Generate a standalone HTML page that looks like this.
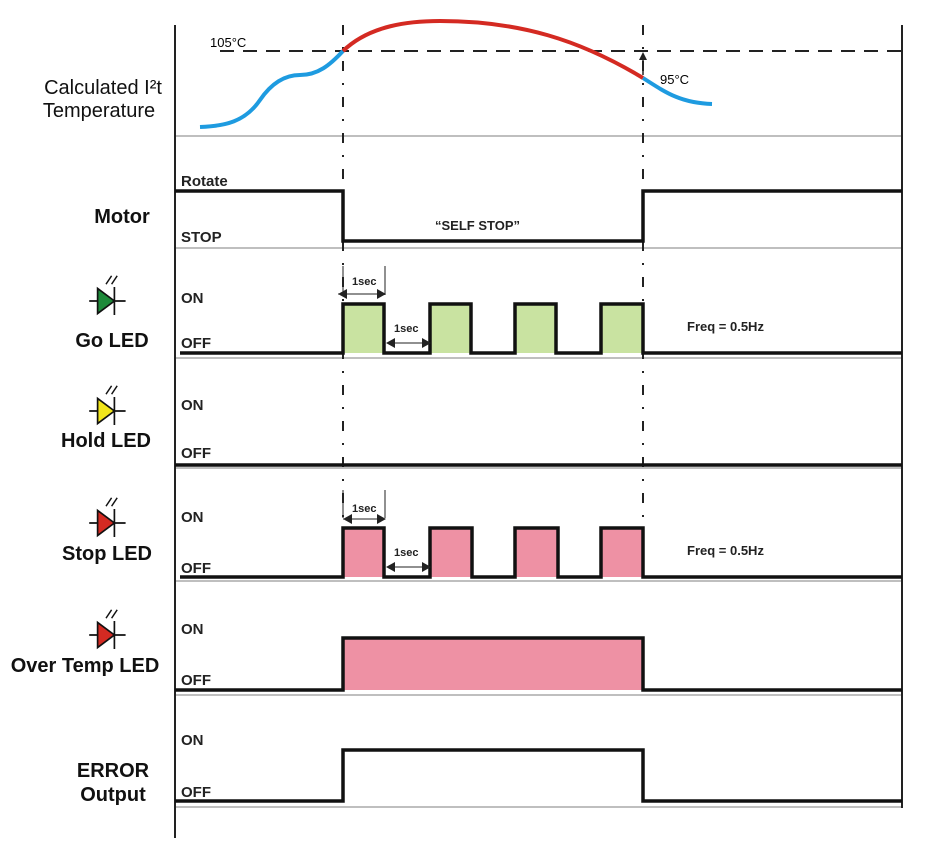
<!DOCTYPE html>
<html><head><style>body{margin:0;background:#fff}svg{display:block}</style></head><body>
<svg width="950" height="854" viewBox="0 0 950 854" xmlns="http://www.w3.org/2000/svg" font-family="Liberation Sans, Arial, sans-serif" font-weight="bold">
<g stroke="#aaa" stroke-width="1.5">
<line x1="175" y1="136" x2="902" y2="136"/><line x1="175" y1="248" x2="902" y2="248"/>
<line x1="175" y1="358" x2="902" y2="358"/><line x1="175" y1="468" x2="902" y2="468"/>
<line x1="175" y1="581" x2="902" y2="581"/><line x1="175" y1="695" x2="902" y2="695"/>
<line x1="175" y1="807" x2="902" y2="807"/>
</g>
<g stroke="#222" stroke-width="2">
<line x1="175" y1="25" x2="175" y2="838"/><line x1="902" y1="25" x2="902" y2="808"/>
</g>
<g stroke="#222" stroke-width="2" fill="none">
<line x1="220" y1="51" x2="902" y2="51" stroke-dasharray="14,9"/>
<line x1="343" y1="25" x2="343" y2="535" stroke-dasharray="10,12,2,12"/>
<line x1="643" y1="25" x2="643" y2="535" stroke-dasharray="10,12,2,12"/>
</g>
<path d="M200,127 C225,126 245,122 260,100 C275,78 290,75 300,75 C318,75 330,65 343,51" stroke="#1e9be0" stroke-width="4" fill="none"/>
<path d="M343,51 C370,25 410,21 440,21 C520,21 580,40 643,78" stroke="#d42a22" stroke-width="4" fill="none"/>
<path d="M643,78 C665,92 680,103 712,104" stroke="#1e9be0" stroke-width="4" fill="none"/>
<line x1="643" y1="55" x2="643" y2="75" stroke="#222" stroke-width="1.5"/>
<path d="M639,60 L643,52 L647,60 Z" fill="#222"/>
<text x="210" y="47" font-size="13" font-weight="normal">105°C</text>
<text x="660" y="84" font-size="13" font-weight="normal">95°C</text>
<polyline points="175,191 343,191 343,241 643,241 643,191 902,191" stroke="#111" stroke-width="3.5" fill="none"/>
<g fill="#c9e3a1"><rect x="343" y="304" width="41" height="49"/><rect x="430" y="304" width="41" height="49"/><rect x="515" y="304" width="41" height="49"/><rect x="601" y="304" width="42" height="49"/></g>
<polyline points="180,353 343,353 343,304 384,304 384,353 430,353 430,304 471,304 471,353 515,353 515,304 556,304 556,353 601,353 601,304 643,304 643,353 902,353" stroke="#111" stroke-width="3.5" fill="none"/>
<line x1="175" y1="465" x2="902" y2="465" stroke="#111" stroke-width="3.5"/>
<g fill="#ee91a4"><rect x="343" y="528" width="41" height="49"/><rect x="430" y="528" width="42" height="49"/><rect x="515" y="528" width="43" height="49"/><rect x="601" y="528" width="42" height="49"/></g>
<polyline points="180,577 343,577 343,528 384,528 384,577 430,577 430,528 472,528 472,577 515,577 515,528 558,528 558,577 601,577 601,528 643,528 643,577 902,577" stroke="#111" stroke-width="3.5" fill="none"/>
<rect x="343" y="638" width="300" height="52" fill="#ee91a4"/>
<polyline points="175,690 343,690 343,638 643,638 643,690 902,690" stroke="#111" stroke-width="3.5" fill="none"/>
<polyline points="175,801 343,801 343,750 643,750 643,801 902,801" stroke="#111" stroke-width="3.5" fill="none"/>
<g stroke="#222" stroke-width="1">
<line x1="343" y1="266" x2="343" y2="295"/><line x1="385" y1="266" x2="385" y2="295"/>
<line x1="343" y1="490" x2="343" y2="518"/><line x1="385" y1="490" x2="385" y2="518"/>
<line x1="338" y1="294" x2="383" y2="294"/><line x1="388" y1="343" x2="428" y2="343"/>
<line x1="343" y1="519" x2="383" y2="519"/><line x1="388" y1="567" x2="428" y2="567"/>
</g>
<g fill="#222">
<path d="M347,289 L347,299 L338,294Z"/><path d="M377,289 L377,299 L386,294Z"/>
<path d="M352,514 L352,524 L343,519Z"/><path d="M377,514 L377,524 L386,519Z"/>
<path d="M395,338 L395,348 L386,343Z"/><path d="M422,338 L422,348 L431,343Z"/>
<path d="M395,562 L395,572 L386,567Z"/><path d="M422,562 L422,572 L431,567Z"/>
</g>
<g font-size="11" fill="#222">
<text x="352" y="285">1sec</text><text x="394" y="332">1sec</text>
<text x="352" y="512">1sec</text><text x="394" y="556">1sec</text>
</g>
<g font-size="13" fill="#222">
<text x="687" y="331">Freq = 0.5Hz</text><text x="687" y="555">Freq =  0.5Hz</text>
<text x="435" y="230">“SELF STOP”</text>
</g>
<g font-size="15" fill="#222">
<text x="181" y="186">Rotate</text><text x="181" y="242">STOP</text>
<text x="181" y="303">ON</text><text x="181" y="348">OFF</text>
<text x="181" y="410">ON</text><text x="181" y="458">OFF</text>
<text x="181" y="522">ON</text><text x="181" y="573">OFF</text>
<text x="181" y="634">ON</text><text x="181" y="685">OFF</text>
<text x="181" y="745">ON</text><text x="181" y="797">OFF</text>
</g>
<g font-size="20" fill="#111" text-anchor="middle" font-weight="normal">
<text x="103" y="94">Calculated I²t</text><text x="99" y="117">Temperature</text>
</g>
<g font-size="20" fill="#111" text-anchor="middle">
<text x="122" y="223">Motor</text>
<text x="112" y="347">Go LED</text>
<text x="106" y="447">Hold LED</text>
<text x="107" y="560">Stop LED</text>
<text x="85" y="672">Over Temp LED</text>
<text x="113" y="777">ERROR</text><text x="113" y="801">Output</text>
</g>
<g stroke="#111" stroke-width="1.2">
<g transform="translate(106,301) scale(1.4)"><line x1="-12" y1="0" x2="14" y2="0"/><line x1="6" y1="-10" x2="6" y2="10"/><path d="M-6,-9 L6,0 L-6,9Z" fill="#1e8a3a"/><line x1="0" y1="-12" x2="4" y2="-18" stroke-width="1"/><line x1="4" y1="-12" x2="8" y2="-18" stroke-width="1"/></g>
<g transform="translate(106,411) scale(1.4)"><line x1="-12" y1="0" x2="14" y2="0"/><line x1="6" y1="-10" x2="6" y2="10"/><path d="M-6,-9 L6,0 L-6,9Z" fill="#f2e61a"/><line x1="0" y1="-12" x2="4" y2="-18" stroke-width="1"/><line x1="4" y1="-12" x2="8" y2="-18" stroke-width="1"/></g>
<g transform="translate(106,523) scale(1.4)"><line x1="-12" y1="0" x2="14" y2="0"/><line x1="6" y1="-10" x2="6" y2="10"/><path d="M-6,-9 L6,0 L-6,9Z" fill="#d42a22"/><line x1="0" y1="-12" x2="4" y2="-18" stroke-width="1"/><line x1="4" y1="-12" x2="8" y2="-18" stroke-width="1"/></g>
<g transform="translate(106,635) scale(1.4)"><line x1="-12" y1="0" x2="14" y2="0"/><line x1="6" y1="-10" x2="6" y2="10"/><path d="M-6,-9 L6,0 L-6,9Z" fill="#d42a22"/><line x1="0" y1="-12" x2="4" y2="-18" stroke-width="1"/><line x1="4" y1="-12" x2="8" y2="-18" stroke-width="1"/></g>
</g>
</svg>
</body></html>
